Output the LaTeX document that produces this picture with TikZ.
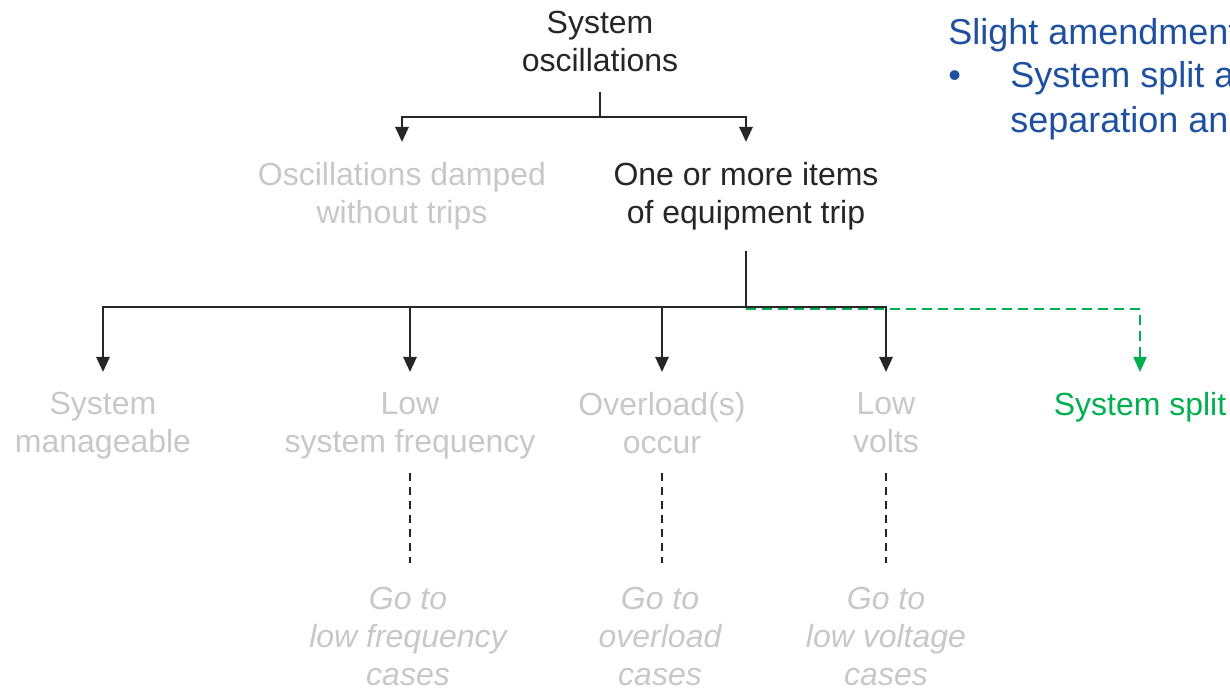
\documentclass[tikz,border=0pt]{standalone}
\usepackage{fontspec}
\setmainfont{Liberation Sans}
\usetikzlibrary{arrows.meta}

\definecolor{inkgray}{RGB}{38,38,38}
\definecolor{fadedgray}{RGB}{200,200,200}
\definecolor{splitgreen}{RGB}{0,176,80}
\definecolor{noteblue}{RGB}{31,80,160}

\begin{document}
\begin{tikzpicture}[x=0.5pt, y=-0.5pt,
	every node/.style={font=\fontsize{16}{19}\selectfont, align=center, inner xsep=2pt, inner ysep=10pt},
	active/.style={text=inkgray},
	faded/.style={text=fadedgray},
	goto/.style={text=fadedgray, font=\fontsize{16}{19}\selectfont\itshape, inner ysep=12pt},
	note/.style={text=noteblue, inner sep=0pt, align=left, font=\fontsize{18}{22}\selectfont},
	tree/.style={draw=inkgray, line width=1.3pt},
	branch/.style={tree, -{Triangle[width=6.5pt,length=7.5pt]}},
	splitline/.style={draw=splitgreen, line width=1pt, dash pattern=on 5pt off 3pt, -{Triangle[width=6.5pt,length=7.5pt]}},
	linkline/.style={draw=inkgray, line width=0.6pt, dash pattern=on 4pt off 3pt}]
	
	% page frame (keeps the slide proportions)
	\useasboundingbox (0,0) rectangle (1230,689);
	
	% --- root ---
	\node[active, anchor=south] (osc) at (600,92) {System\\oscillations};
	\coordinate (bus1) at (600,117);
	
	% --- first split ---
	\node[faded, anchor=north] (damped) at (402,142) {Oscillations damped\\without trips};
	\node[active, anchor=north] (trip)   at (746,142) {One or more items\\of equipment trip};
	\coordinate (bus2) at (746,307);
	
	% --- consequences ---
	\node[faded, anchor=north] (manage) at (103,372)  {System\\manageable};
	\node[faded, anchor=north] (lowf)   at (410,372)  {Low\\system frequency};
	\node[faded, anchor=north] (over)   at (662,372)  {Overload(s)\\occur};
	\node[faded, anchor=north] (lowv)   at (886,372)  {Low\\volts};
	\node[text=splitgreen, anchor=north] (split) at (1140,372) {System split};
	
	% --- pointers to other cases ---
	\node[goto, anchor=north] (golowf) at (408,563) {Go to\\low frequency\\cases};
	\node[goto, anchor=north] (goover) at (660,563) {Go to\\overload\\cases};
	\node[goto, anchor=north] (golowv) at (886,563) {Go to\\low voltage\\cases};
	
	% --- note (runs off the slide) ---
	\node[note, anchor=base west] (note) at (948,45) {Slight amendment};
	\node[note, anchor=base west] (bullet) at (948,88) {•};
	\node[note, anchor=base west] (notebody1) at (1010,88) {System split and};
	\node[note, anchor=base west] (notebody2) at (1010,133) {separation and};
	
	% --- connectors ---
	\draw[tree] (osc.south) -- (bus1);
	\draw[branch] (bus1) -| (damped.north);
	\draw[branch] (bus1) -| (trip.north);
	
	\draw[tree] (trip.south) -- (bus2);
	\foreach \n in {manage,lowf,over,lowv}{
		\draw[branch] (bus2) -| (\n.north);
	}
	\draw[splitline] ([yshift=-1pt]bus2) -| (split.north);
	
	\draw[linkline] (lowf.south |- lowv.south) -- (golowf.north -| lowf.south);
	\draw[linkline] (over.south |- lowv.south) -- (goover.north -| over.south);
	\draw[linkline] (lowv.south) -- (golowv.north);
	
\end{tikzpicture}
\end{document}
